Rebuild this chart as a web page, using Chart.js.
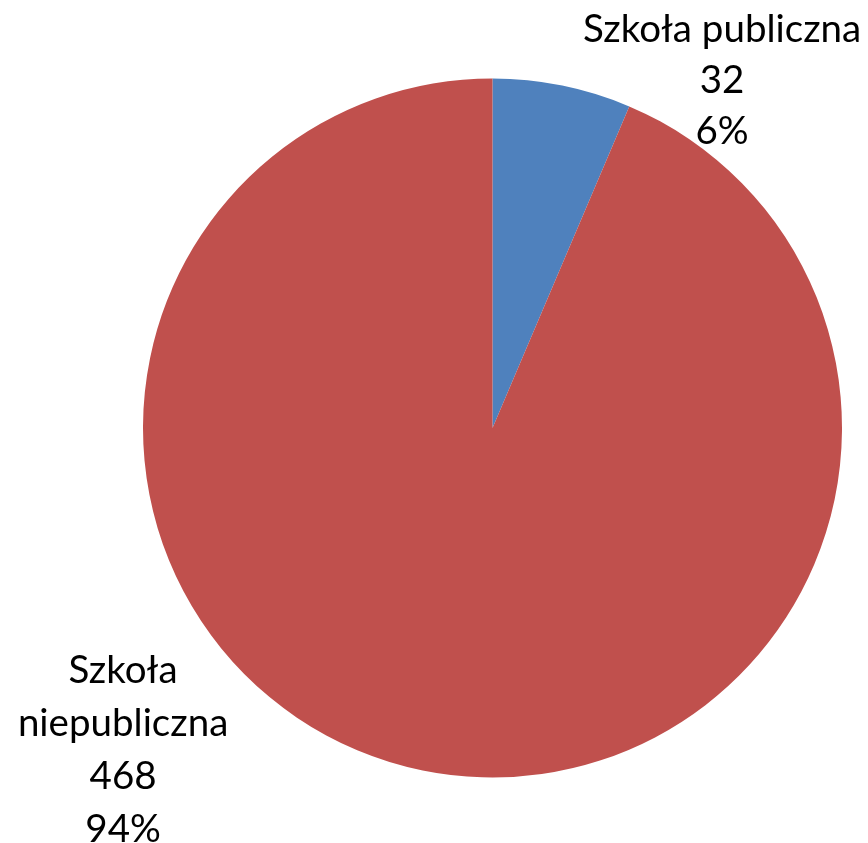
<!DOCTYPE html>
<html>
<head>
<meta charset="utf-8">
<script src="https://cdn.jsdelivr.net/npm/chart.js@4/dist/chart.umd.min.js"></script>
<style>
html,body{margin:0;padding:0;background:#fff;}
#wrap{width:868px;height:843px;position:relative;}
</style>
</head>
<body>
<div id="wrap"><canvas id="c" width="868" height="843"></canvas></div>
<script>
const categories = ["Szkoła publiczna", "Szkoła niepubliczna"];
const values = [32, 468];
const percents = ["6%", "94%"];
const colors = ["#4F81BD", "#C0504D"];

const labelLines = [
  [categories[0], String(values[0]), percents[0]],
  ["Szkoła", "niepubliczna", String(values[1]), percents[1]]
];

const labelPlugin = {
  id: 'pieLabels',
  afterDatasetsDraw(chart) {
    const ctx = chart.ctx;
    const meta = chart.getDatasetMeta(0);
    const a0 = meta.data[0];
    const cx = a0.x, cy = a0.y, r = a0.outerRadius;
    ctx.save();
    ctx.fillStyle = '#000';
    ctx.font = '38.5px Lato, "Open Sans", sans-serif';
    ctx.textAlign = 'center';
    ctx.textBaseline = 'middle';
    const lh = 51;
    const x1 = cx + r * 0.657, y1 = cy - r * 1.14;
    labelLines[0].forEach((t, i) => ctx.fillText(t, x1, y1 + i * lh));
    const x2 = cx - r * 1.057, y2 = cy + r * 0.694;
    labelLines[1].forEach((t, i) => ctx.fillText(t, x2, y2 + i * 53));
    ctx.restore();
  }
};

new Chart(document.getElementById('c'), {
  type: 'pie',
  data: {
    labels: categories,
    datasets: [{
      data: values,
      backgroundColor: colors,
      borderWidth: 0
    }]
  },
  options: {
    responsive: false,
    animation: false,
    layout: { padding: { left: 143, right: 26, top: 78, bottom: 65 } },
    plugins: {
      legend: { display: false },
      tooltip: { enabled: false }
    }
  },
  plugins: [labelPlugin]
});
</script>
</body>
</html>
